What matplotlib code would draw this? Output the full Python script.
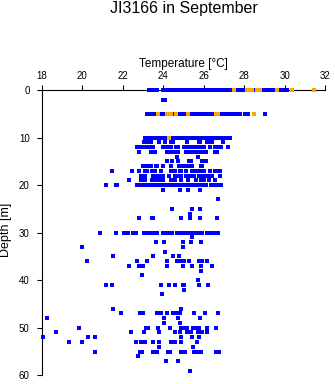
import matplotlib
matplotlib.use("Agg")
import matplotlib.pyplot as plt

plt.rcParams['font.family'] = ['Liberation Sans', 'DejaVu Sans']

# temperatures [°C], one list per depth [m]
t_00 = [23.3, 23.4, 23.5, 23.6, 23.7, 24.0, 24.1, 24.2, 24.3, 24.4, 24.5, 24.6, 24.7, 24.8, 24.9, 25.0,
        25.2, 25.3, 25.4, 25.5, 25.6, 25.7, 25.8, 25.9, 26.0, 26.1, 26.2, 26.3, 26.4, 26.5, 26.6, 26.7,
        26.8, 26.9, 27.0, 27.1, 27.2, 27.3, 27.4, 27.7, 27.8, 27.9, 28.0, 28.4, 28.5, 28.9, 29.0, 29.1,
        29.2, 29.3, 29.4, 29.5, 29.8, 30.0, 30.1]
t_02 = [24.0, 24.1]
t_05 = [23.2, 23.3, 23.4, 23.5, 23.6, 23.9, 24.05, 24.55, 24.8, 24.9, 25.0, 25.1, 25.35, 25.45, 25.55,
        25.65, 25.75, 25.85, 25.95, 26.05, 26.15, 26.25, 26.35, 26.45, 26.9, 27.0, 27.1, 27.2, 27.3,
        27.4, 27.5, 27.6, 27.7, 27.8, 28.05, 28.2, 29.0]
t_10 = [23.1, 23.2, 23.3, 23.4, 23.5, 23.6, 23.7, 23.8, 23.9, 24.0, 24.1, 24.2, 24.3, 24.4, 24.5, 24.6,
        24.7, 24.8, 24.9, 25.0, 25.1, 25.2, 25.3, 25.4, 25.5, 25.6, 25.7, 25.8, 25.9, 26.0, 26.1, 26.2,
        26.3, 26.4, 26.5, 26.6, 26.7, 26.8, 26.9, 27.0, 27.1, 27.2, 27.3]
t_11 = [23.05, 23.2, 23.4, 23.77, 24.07, 24.4, 24.5, 25.19, 25.75, 25.82, 26.14, 26.25, 26.4, 26.93]
t_12 = [22.72, 22.8, 23.02, 23.15, 23.3, 23.4, 23.5, 24.0, 24.1, 24.2, 24.3, 24.4, 24.64, 24.71,
        25.0, 25.1, 25.2, 25.3, 25.4, 25.5, 25.6, 25.7, 25.8, 25.9, 26.0, 26.33, 26.55, 26.65, 26.75,
        26.83, 27.22]
t_13 = [22.82, 23.41, 23.57, 24.2, 24.26, 24.5, 24.6, 24.72, 25.13, 25.23, 25.32, 25.52, 25.62,
        25.72, 25.82, 25.9, 26.1, 26.55, 26.63]
t_14 = [24.7, 25.73]
t_15 = [24.2, 24.42, 24.72, 25.29, 25.35, 25.92, 26.12]
t_16 = [23.02, 23.12, 23.22, 23.3, 23.38, 23.62, 23.7, 24.0, 24.4, 24.8, 24.9, 25.0, 25.1, 25.2,
        25.3, 25.41, 25.84, 25.92]
t_17 = [21.48, 22.47, 22.82, 23.12, 23.21, 23.42, 23.52, 23.61, 23.9, 24.4, 24.5, 24.6, 24.83,
        24.89, 25.12, 25.42, 25.52, 25.62, 25.72, 25.82, 25.92, 25.99, 26.33, 26.55, 26.63, 26.82]
t_18 = [22.92, 23.02, 23.11, 23.51, 23.71, 23.8, 24.0, 24.3, 24.6, 24.7, 24.8, 24.86, 25.13, 25.23,
        25.33, 25.43, 25.51, 25.74, 25.84, 25.94, 26.01, 26.2, 26.42, 26.82]
t_19 = [22.32, 22.92, 23.12, 23.42, 23.52, 23.62, 23.72, 23.8, 24.0, 24.4, 24.6, 24.86, 25.2, 25.63,
        25.84, 25.94, 26.01, 26.24, 26.53]
t_20 = [21.19, 21.68, 21.72, 22.72, 22.92, 23.02, 23.12, 23.22, 23.32, 23.42, 23.51, 23.7, 23.8,
        23.9, 24.0, 24.1, 24.2, 24.3, 24.4, 24.5, 24.6, 24.7, 24.8, 24.9, 25.0, 25.1, 25.2, 25.3, 25.4,
        25.5, 25.6, 25.7, 25.8, 25.9, 26.0, 26.1, 26.35, 26.45, 26.55, 26.65, 26.75, 26.83]
t_21 = [24.0, 24.85, 25.22, 25.82]
t_23 = [26.72]
t_25 = [24.45, 25.43, 25.82]
t_26 = [25.33]
t_27 = [22.82, 23.42, 23.51, 24.9, 25.32, 25.82, 26.67]
t_30 = [20.9, 21.68, 22.08, 22.18, 22.27, 22.53, 22.65, 23.05, 23.15, 23.25, 23.35, 23.45, 23.55,
        23.67, 24.01, 24.11, 24.21, 24.31, 24.43, 24.7, 24.8, 24.9, 25.0, 25.1, 25.2, 25.3, 25.4, 25.5,
        25.6, 25.7, 25.8, 25.9, 26.16, 26.26, 26.36, 26.46, 26.56, 26.7]
t_31 = [25.43]
t_32 = [23.65, 24.05, 24.95, 25.37, 25.87]
t_33 = [20.0, 24.95]
t_34 = [24.1]
t_35 = [21.5, 23.51, 24.47, 24.78]
t_36 = [20.22, 22.72, 23.22, 24.2, 24.7, 24.8, 24.9, 25.02, 25.26, 25.75, 25.9, 26.16]
t_37 = [22.32, 22.78, 23.02, 24.2, 24.95, 25.43, 25.87, 26.42]
t_38 = [25.85]
t_39 = [22.93]
t_40 = [25.72]
t_41 = [21.15, 21.48, 23.9, 24.27, 24.57, 24.95, 25.0, 25.78, 26.2]
t_42 = [25.0]
t_43 = [23.95]
t_46 = [21.53, 24.87]
t_47 = [21.9, 22.87, 23.02, 23.7, 23.9, 24.2, 24.5, 24.66, 24.85, 25.53, 26.06, 26.68]
t_48 = [18.25, 24.03, 24.75, 25.82]
t_49 = [24.05, 24.85]
t_50 = [19.86, 23.17, 23.23, 23.75, 24.35, 24.9, 25.0, 25.1, 25.19, 25.49, 25.59, 25.69, 25.74,
        26.17, 26.62]
t_51 = [18.73, 22.39, 23.05, 23.8, 24.6, 24.81, 25.17, 25.38, 25.73, 25.93, 26.17]
t_52 = [18.07, 20.3, 20.65, 24.86, 25.43, 25.78]
t_53 = [19.36, 20.0, 22.67, 22.92, 23.1, 23.51, 23.8, 24.36, 24.6, 24.9, 25.68]
t_54 = [23.8, 25.48]
t_55 = [20.65, 22.87, 22.93, 23.51, 23.6, 23.67, 24.22, 24.35, 24.9, 25.0, 25.09, 25.54, 25.64,
        25.74, 25.88, 26.62, 26.73]
t_56 = [22.77]
t_57 = [24.15, 24.75]
t_59 = [25.33]

# orange observations (surface layers)
orange_00 = [27.5, 28.15, 28.25, 28.4, 28.65, 28.8, 29.6, 30.35, 31.45]
orange_05 = [23.75, 24.2, 24.3, 24.4, 24.65, 25.2, 26.6, 26.7, 28.5]
orange_10 = [24.3]

blue_rows = {0: t_00, 2: t_02, 5: t_05, 10: t_10, 11: t_11, 12: t_12, 13: t_13, 14: t_14,
             15: t_15, 16: t_16, 17: t_17, 18: t_18, 19: t_19, 20: t_20, 21: t_21, 23: t_23,
             25: t_25, 26: t_26, 27: t_27, 30: t_30, 31: t_31, 32: t_32, 33: t_33, 34: t_34,
             35: t_35, 36: t_36, 37: t_37, 38: t_38, 39: t_39, 40: t_40, 41: t_41, 42: t_42,
             43: t_43, 46: t_46, 47: t_47, 48: t_48, 49: t_49, 50: t_50, 51: t_51, 52: t_52,
             53: t_53, 54: t_54, 55: t_55, 56: t_56, 57: t_57, 59: t_59}
orange_rows = {0: orange_00, 5: orange_05, 10: orange_10}

x_ticks = [18, 20, 22, 24, 26, 28, 30, 32]
y_ticks = [0, 10, 20, 30, 40, 50, 60]

fig = plt.figure(figsize=(3.35, 3.84), dpi=100)
ax = fig.add_axes([0.1245, 0.0227, 0.8466, 0.7429])

bx, by = [], []
for d, temps in blue_rows.items():
    bx += temps
    by += [d] * len(temps)
ox, oy = [], []
for d, temps in orange_rows.items():
    ox += temps
    oy += [d] * len(temps)

# points sit on top of the axis line, as in the original
ax.plot(bx, by, ls='none', marker='s', ms=2.2, mew=0, color='#0000FF',
        antialiased=False, clip_on=False, zorder=3)
ax.plot(ox, oy, ls='none', marker='s', ms=2.2, mew=0, color='#FFA500',
        antialiased=False, clip_on=False, zorder=4)

ax.set_xlim(18, 32)
ax.set_ylim(60, 0)
ax.set_xticks(x_ticks)
ax.set_yticks(y_ticks)
ax.xaxis.tick_top()
ax.xaxis.set_label_position('top')
for s in ['right', 'bottom']:
    ax.spines[s].set_visible(False)
for s in ['top', 'left']:
    ax.spines[s].set_linewidth(0.8)
ax.tick_params(axis='both', direction='out', length=3.6, width=0.8, labelsize=7)
ax.tick_params(axis='x', pad=3)
ax.tick_params(axis='y', pad=5)

ax.set_xlabel('Temperature [°C]', fontsize=8.5, labelpad=3)
ax.set_ylabel('Depth [m]', fontsize=9)
ax.yaxis.set_label_coords(-0.106, 0.51)

fig.text(183.5 / 335, 1 - 8.5 / 384, 'JI3166 in September', fontsize=11.5, ha='center', va='center')

fig.savefig('out.png', dpi=100)
